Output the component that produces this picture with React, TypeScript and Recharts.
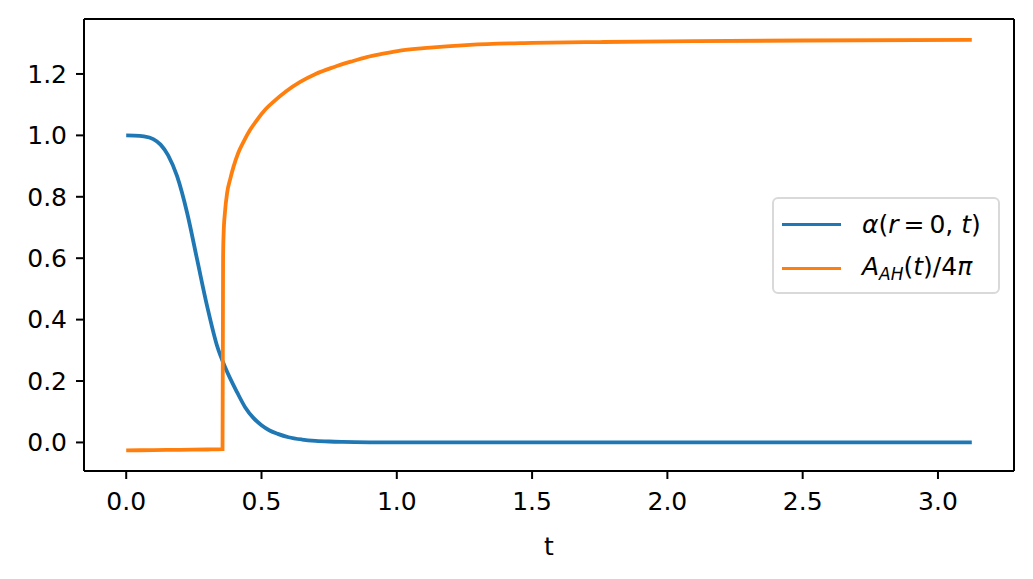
import React from "react"
import { LineChart, Line, XAxis, YAxis, ReferenceLine } from "recharts"

// alpha(r=0, t)
const alphaT = [0, 0.03, 0.065, 0.1, 0.127, 0.155, 0.188, 0.225, 0.262, 0.299, 0.336, 0.366, 0.41, 0.44, 0.47, 0.5, 0.53, 0.56, 0.6, 0.65, 0.7, 0.75, 0.8, 0.9, 1.0, 1.5, 2.0, 2.5, 3.125]
const alphaV = [1.0, 0.9995, 0.997, 0.988, 0.97, 0.935, 0.867, 0.748, 0.596, 0.444, 0.314, 0.244, 0.163, 0.114, 0.08, 0.056, 0.039, 0.028, 0.017, 0.0095, 0.0053, 0.003, 0.0017, 0.0005, 0.0002, 0.0, 0.0, 0.0, 0.0]

// A_AH(t) / 4pi
const areaT = [0, 0.1, 0.2, 0.3, 0.356, 0.358, 0.36, 0.365, 0.373, 0.385, 0.397, 0.415, 0.434, 0.458, 0.483, 0.515, 0.545, 0.59, 0.643, 0.7, 0.766, 0.83, 0.889, 0.95, 1.012, 1.1, 1.27, 1.5, 1.75, 2.0, 2.5, 3.125]
const areaV = [-0.026, -0.025, -0.024, -0.023, -0.022, 0.6, 0.68, 0.75, 0.813, 0.86, 0.899, 0.945, 0.98, 1.018, 1.05, 1.085, 1.11, 1.143, 1.174, 1.2, 1.222, 1.24, 1.255, 1.266, 1.276, 1.284, 1.295, 1.301, 1.304, 1.306, 1.309, 1.311]

const xTicks = [0, 0.5, 1.0, 1.5, 2.0, 2.5, 3.0]
const yTicks = [0, 0.2, 0.4, 0.6, 0.8, 1.0, 1.2]

const X_DOMAIN = [-0.156, 3.281]
const Y_DOMAIN = [-0.093, 1.379]

const alphaData = alphaT.map((t, i) => ({ t, v: alphaV[i] }))
const areaData = areaT.map((t, i) => ({ t, v: areaV[i] }))

const BLUE = "#1f77b4"
const ORANGE = "#ff7f0e"
const FONT = "'DejaVu Sans', sans-serif"

const LegendBox = () => {
  const swatch = (c: string) => (
    <div style={{ width: 59, height: 0, borderTop: `3.8px solid ${c}`, marginLeft: 8, marginRight: 21 }} />
  )
  return (
    <div
      style={{
        position: "absolute",
        left: 772,
        top: 197,
        width: 228,
        height: 97,
        border: "2px solid #d9d9d9",
        borderRadius: 6,
        background: "rgba(255,255,255,0.8)",
        fontFamily: FONT,
        fontSize: 25,
        color: "#000",
        boxSizing: "border-box",
        paddingTop: 3,
      }}
    >
      <div style={{ display: "flex", alignItems: "center", height: 44 }}>
        {swatch(BLUE)}
        <span style={{ whiteSpace: "nowrap" }}>
          <i>α</i>(<i>r</i>&thinsp;=&thinsp;0, <i>t</i>)
        </span>
      </div>
      <div style={{ display: "flex", alignItems: "center", height: 44 }}>
        {swatch(ORANGE)}
        <span style={{ whiteSpace: "nowrap" }}>
          <i>A</i>
          <sub style={{ fontSize: 17, fontStyle: "italic", verticalAlign: "-5px" }}>AH</sub>(<i>t</i>)/4<i>π</i>
        </span>
      </div>
    </div>
  )
}

export default function App() {
  const tickStyle = { fill: "#000", fontSize: 25, fontFamily: FONT }
  const axisLine = { stroke: "#000", strokeWidth: 2 }
  const tickLine = { stroke: "#000", strokeWidth: 2 }
  return (
    <div style={{ margin: -8, width: 1033, height: 579, background: "#fff", position: "relative" }}>
      <LineChart width={1033} height={579} margin={{ top: 19, right: 19, bottom: 24, left: 24 }}>
        <XAxis
          dataKey="t"
          type="number"
          domain={X_DOMAIN}
          ticks={xTicks}
          tickFormatter={(v: number) => v.toFixed(1)}
          allowDataOverflow
          height={84}
          tick={tickStyle}
          tickSize={8}
          tickMargin={13}
          axisLine={axisLine}
          tickLine={tickLine}
          label={{ value: "t", position: "insideBottom", offset: 0, fill: "#000", fontSize: 25, fontFamily: FONT }}
        />
        <YAxis
          type="number"
          domain={Y_DOMAIN}
          ticks={yTicks}
          tickFormatter={(v: number) => v.toFixed(1)}
          allowDataOverflow
          width={60}
          tick={tickStyle}
          tickSize={8}
          tickMargin={9}
          axisLine={axisLine}
          tickLine={tickLine}
        />
        <ReferenceLine y={Y_DOMAIN[1]} stroke="#000" strokeWidth={2} />
        <ReferenceLine x={X_DOMAIN[1]} stroke="#000" strokeWidth={2} />
        <Line
          data={alphaData}
          dataKey="v"
          type="monotone"
          stroke={BLUE}
          strokeWidth={3.8}
          dot={false}
          activeDot={false}
          isAnimationActive={false}
        />
        <Line
          data={areaData}
          dataKey="v"
          type="monotone"
          stroke={ORANGE}
          strokeWidth={3.8}
          dot={false}
          activeDot={false}
          isAnimationActive={false}
        />
      </LineChart>
      <LegendBox />
    </div>
  )
}
